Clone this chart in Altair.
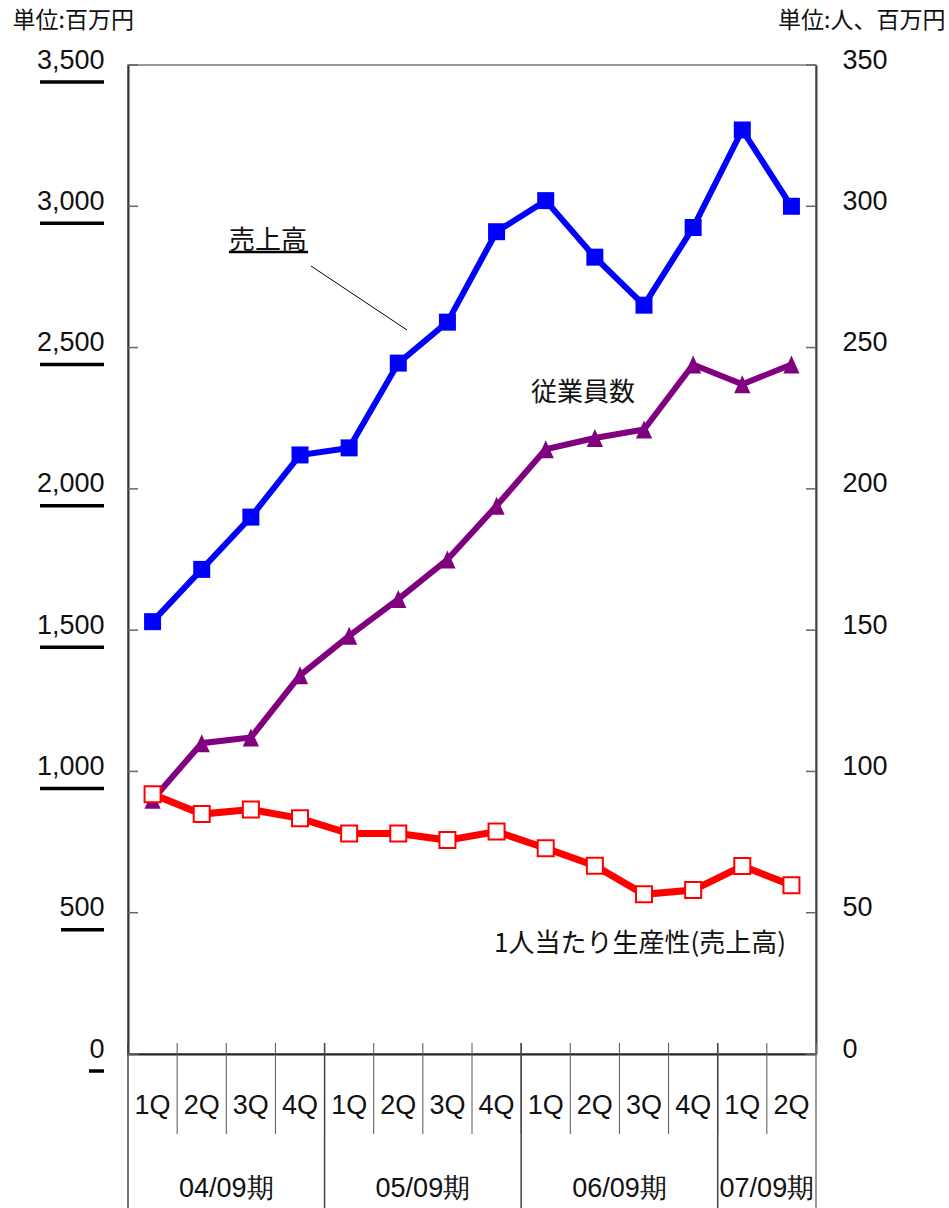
import altair as alt
import pandas as pd

# ---- data -------------------------------------------------------------
quarters = ["1Q", "2Q", "3Q", "4Q", "1Q", "2Q", "3Q", "4Q",
            "1Q", "2Q", "3Q", "4Q", "1Q", "2Q"]
periods = ["04/09期"] * 4 + ["05/09期"] * 4 + ["06/09期"] * 4 + ["07/09期"] * 2

sales = [1530, 1715, 1900, 2120, 2145, 2445, 2590,
         2910, 3020, 2820, 2650, 2925, 3270, 3000]          # 売上高 (百万円)
employees = [90, 110, 112, 134, 148, 161, 175,
             194, 214, 218, 221, 244, 237, 244]             # 従業員数 (人)
productivity = [91.9, 84.9, 86.5, 83.4, 78.0, 78.0, 75.7,
                78.7, 72.8, 66.6, 56.5, 58.0, 66.5, 59.7]   # 1人当たり生産性

left_ticks = [0, 500, 1000, 1500, 2000, 2500, 3000, 3500]
right_ticks = [0, 50, 100, 150, 200, 250, 300, 350]

notes = ["売上高", "従業員数", "1人当たり生産性(売上高)"]
unit_left = "単位:百万円"
unit_right = "単位:人、百万円"

# ---- tables -----------------------------------------------------------
keys = [f"{p} {q}" for p, q in zip(periods, quarters)]
df = pd.DataFrame({"key": keys, "quarter": quarters, "period": periods,
                   "sales": sales, "emp": employees, "prod": productivity})

period_order = list(dict.fromkeys(periods))
year_starts = df.groupby("period", sort=False).head(1)
quarter_inner = df.iloc[1:]
year_labels = pd.DataFrame({
    "period": period_order,
    "key": [df[df.period == p].key.iloc[len(df[df.period == p]) // 2] for p in period_order],
})
tick_df = pd.DataFrame({"v": left_ticks})

W, H = 688, 989
NUM_FONT = "Liberation Sans, Arial, sans-serif"
NUM_SIZE = 27
JP_FONT = "Noto Sans CJK JP, sans-serif"
INK = "#111111"

xscale = alt.Scale(type="band", domain=keys, paddingInner=0, paddingOuter=0)
pxscale = alt.Scale(domain=[0, W], nice=False, zero=False)   # identity pixel scale


def xenc(bp):
    return alt.X("key:N", scale=xscale, axis=None, bandPosition=bp)


left_scale = alt.Scale(domain=[0, 3500], nice=False, zero=True)
right_scale = alt.Scale(domain=[0, 350], nice=False, zero=True)

left_axis = alt.Axis(
    values=left_ticks, format=",.0f", orient="left", grid=False,
    domainColor="#333333", domainWidth=2, ticks=False, tickSize=0,
    labelPadding=24, labelFont=NUM_FONT, labelFontSize=NUM_SIZE, labelColor=INK,
    labelOffset=-5, labelFlush=False, labelOverlap=False,
    title=unit_left, titleFont=JP_FONT, titleFontSize=23, titleFontWeight="normal",
    titleColor=INK, titleAngle=0, titleAlign="left", titleBaseline="middle",
    titleX=-116, titleY=-45,
)
right_axis = alt.Axis(
    values=right_ticks, format="d", orient="right", grid=False,
    domainColor="#444444", domainWidth=2, ticks=False, tickSize=0,
    labelPadding=26, labelFont=NUM_FONT, labelFontSize=NUM_SIZE, labelColor=INK,
    labelOffset=-5, labelFlush=False, labelOverlap=False,
    title=unit_right, titleFont=JP_FONT, titleFontSize=23, titleFontWeight="normal",
    titleColor=INK, titleAngle=0, titleAlign="right", titleBaseline="middle",
    titleX=129, titleY=-45,
)

base = alt.Chart(df)

# ---- sales (left scale) -------------------------------------------------------
sales_line = base.mark_line(color="#0000FF", strokeWidth=6).encode(
    x=alt.X("key:N", scale=xscale, bandPosition=0.5,
            axis=alt.Axis(labels=False, ticks=False, domainColor="#222222",
                          domainWidth=2, title=None, grid=False)),
    y=alt.Y("sales:Q", scale=left_scale, axis=left_axis),
)
sales_pts = base.mark_point(shape="square", filled=True, size=289,
                            color="#0000FF", opacity=1).encode(
    x=xenc(0.5), y=alt.Y("sales:Q", scale=left_scale, axis=None))

inner_ticks_l = alt.Chart(tick_df).mark_rule(color="#666666", strokeWidth=1.5).encode(
    x=alt.value(0), x2=alt.value(10), y=alt.Y("v:Q", scale=left_scale, axis=None))
inner_ticks_r = alt.Chart(tick_df).mark_rule(color="#666666", strokeWidth=1.5).encode(
    x=alt.value(W - 10), x2=alt.value(W), y=alt.Y("v:Q", scale=left_scale, axis=None))

# underline beneath every left-hand tick label, its length taken from the label text
underlines = alt.Chart(tick_df).transform_calculate(
    lab="format(datum.v, ',.0f')",
).transform_calculate(
    nd="length(replace(datum.lab, ',', ''))",
).transform_calculate(
    ux="-25 - 14 * datum.nd - 7 * (length(datum.lab) - datum.nd)",
).mark_rule(color="#000000", strokeWidth=3.5, yOffset=17).encode(
    x=alt.X("ux:Q", scale=pxscale, axis=None), x2=alt.value(-24),
    y=alt.Y("v:Q", scale=left_scale, axis=None))

# ---- employees and productivity (right scale) ------------------------------------
emp_line = base.mark_line(color="#800080", strokeWidth=6).encode(
    x=xenc(0.5), y=alt.Y("emp:Q", scale=right_scale, axis=right_axis))
emp_pts = base.mark_point(shape="M0,-1L0.9,1L-0.9,1Z", filled=True, size=324,
                          color="#800080", opacity=1).encode(
    x=xenc(0.5), y=alt.Y("emp:Q", scale=right_scale, axis=None))
prod_line = base.mark_line(color="#FF0000", strokeWidth=7).encode(
    x=xenc(0.5), y=alt.Y("prod:Q", scale=right_scale, axis=None))
prod_pts = base.mark_point(shape="square", filled=True, size=256, fill="#FFFFFF",
                           stroke="#FF0000", strokeWidth=2, opacity=1).encode(
    x=xenc(0.5), y=alt.Y("prod:Q", scale=right_scale, axis=None))

# ---- category axis drawn as a two-level table ----------------------------------
q_sep = alt.Chart(quarter_inner).mark_rule(color="#555555", strokeWidth=1).encode(
    x=xenc(0), y=alt.value(H - 11), y2=alt.value(H + 80))
y_sep = alt.Chart(year_starts).mark_rule(color="#444444", strokeWidth=1.5).encode(
    x=xenc(0), y=alt.value(H - 11), y2=alt.value(H + 154))
y_end = alt.Chart(df.tail(1)).mark_rule(color="#777777", strokeWidth=1.5).encode(
    x=xenc(1), y=alt.value(H - 11), y2=alt.value(H + 154))
q_text = base.mark_text(font=NUM_FONT, fontSize=NUM_SIZE, color=INK,
                        baseline="middle", align="center").encode(
    x=xenc(0.5), y=alt.value(H + 52), text="quarter:N")
y_text = alt.Chart(year_labels).mark_text(font=NUM_FONT, fontSize=NUM_SIZE, color=INK,
                                          baseline="middle", align="center").encode(
    x=xenc(0), y=alt.value(H + 135), text="period:N")

# ---- series annotations ------------------------------------------------------
note_df = pd.DataFrame({"label": notes})
note_sales = alt.Chart(note_df.iloc[[0]]).mark_text(
    font=JP_FONT, fontSize=26, color=INK, align="left", baseline="middle").encode(
    x=alt.value(101), y=alt.value(176), text="label:N")
note_sales_ul = alt.Chart(note_df.iloc[[0]]).mark_rule(color="#000000", strokeWidth=2.5).encode(
    x=alt.value(101), x2=alt.value(180), y=alt.value(187))
note_sales_lead = alt.Chart(note_df.iloc[[0]]).mark_rule(color="#000000", strokeWidth=1).encode(
    x=alt.value(183), x2=alt.value(279), y=alt.value(201), y2=alt.value(265))
note_emp = alt.Chart(note_df.iloc[[1]]).mark_text(
    font=JP_FONT, fontSize=26, color=INK, align="center", baseline="middle").encode(
    x=alt.value(455), y=alt.value(328), text="label:N")
note_prod = alt.Chart(note_df.iloc[[2]]).mark_text(
    font=JP_FONT, fontSize=26, color=INK, align="center", baseline="middle").encode(
    x=alt.value(512), y=alt.value(879), text="label:N")

chart = alt.layer(
    q_sep, y_sep, y_end, q_text, y_text,
    inner_ticks_l, inner_ticks_r, underlines,
    sales_line, sales_pts,
    emp_line, emp_pts, prod_line, prod_pts,
    note_sales, note_sales_ul, note_sales_lead, note_emp, note_prod,
).resolve_scale(x="independent", y="independent").properties(
    width=W, height=H,
    autosize=alt.AutoSizeParams(type="none"),
    padding={"left": 128, "top": 65, "right": 133, "bottom": 154},
    background="#FFFFFF",
).configure_view(stroke="#777777", strokeWidth=1.5)

chart.save("out.html", embed_options={"renderer": "svg", "actions": False})
